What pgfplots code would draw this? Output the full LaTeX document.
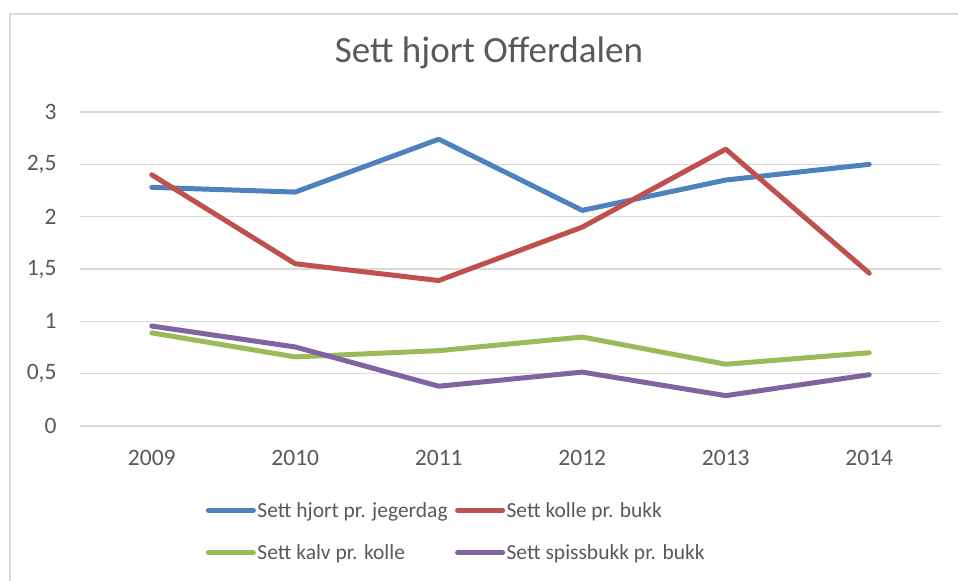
\documentclass[border=0pt]{standalone}
\usepackage{fontspec}
\setmainfont{Carlito}
\usepackage{pgfplots}
\pgfplotsset{compat=1.18}
\definecolor{txt}{HTML}{595959}
\definecolor{gridc}{HTML}{D9D9D9}
\definecolor{sA}{HTML}{4F81BD}
\definecolor{sB}{HTML}{C0504D}
\definecolor{sC}{HTML}{9BBB59}
\definecolor{sD}{HTML}{8064A2}
\begin{document}
\begin{tikzpicture}
\path[use as bounding box] (-80bp,-155bp) rectangle (878bp,426bp);
\draw[gridc, line width=1.5bp] (-70bp,-170bp) -- (-70bp,412bp) -- (890bp,412bp);
\begin{axis}[
  scale only axis, width=861bp, height=314bp,
  xmin=-0.5, xmax=5.5, ymin=0, ymax=3,
  xtick={0,1,2,3,4,5}, xticklabels={2009,2010,2011,2012,2013,2014},
  ytick={0,0.5,1,1.5,2,2.5,3},
  ymajorgrids, major grid style={gridc, line width=1.5bp},
  axis line style={draw=none}, tick style={draw=none},
  ticklabel style={font=\fontsize{23.5bp}{28bp}\selectfont, text=txt},
  yticklabel style={anchor=east, xshift=-20bp},
  xticklabel style={anchor=base, yshift=-39bp},
  /pgf/number format/use comma, /pgf/number format/assume math mode=true,
  title={Sett hjort Offerdalen},
  title style={font=\fontsize{37bp}{42bp}\selectfont, text=txt, anchor=base, at={(axis description cs:0.475,1.140)}},
  legend columns=2,
  legend cell align=left,
  legend style={draw=none, fill=none, font=\fontsize{21.5bp}{25bp}\selectfont, text=txt,
    at={(axis description cs:0.146,-0.237)}, anchor=north west,
    /tikz/every even column/.append style={column sep=6bp},
    row sep=23bp, inner sep=0pt,
    nodes={inner sep=1.5bp}},
  legend image code/.code={\draw[#1, line width=5bp, line cap=round] (0bp,0bp) -- (45bp,0bp);},
  every axis plot/.append style={line width=5bp, line join=round, line cap=round},
]
\addplot[sA] coordinates {(0,2.28) (1,2.235) (2,2.74) (3,2.06) (4,2.35) (5,2.50)};
\addlegendentry{Sett hjort pr. jegerdag}
\addplot[sB] coordinates {(0,2.40) (1,1.55) (2,1.39) (3,1.90) (4,2.645) (5,1.46)};
\addlegendentry{Sett kolle pr. bukk}
\addplot[sC] coordinates {(0,0.89) (1,0.66) (2,0.72) (3,0.85) (4,0.59) (5,0.70)};
\addlegendentry{Sett kalv pr. kolle}
\addplot[sD] coordinates {(0,0.955) (1,0.755) (2,0.38) (3,0.515) (4,0.29) (5,0.49)};
\addlegendentry{Sett spissbukk pr. bukk}
\end{axis}
\end{tikzpicture}
\end{document}
